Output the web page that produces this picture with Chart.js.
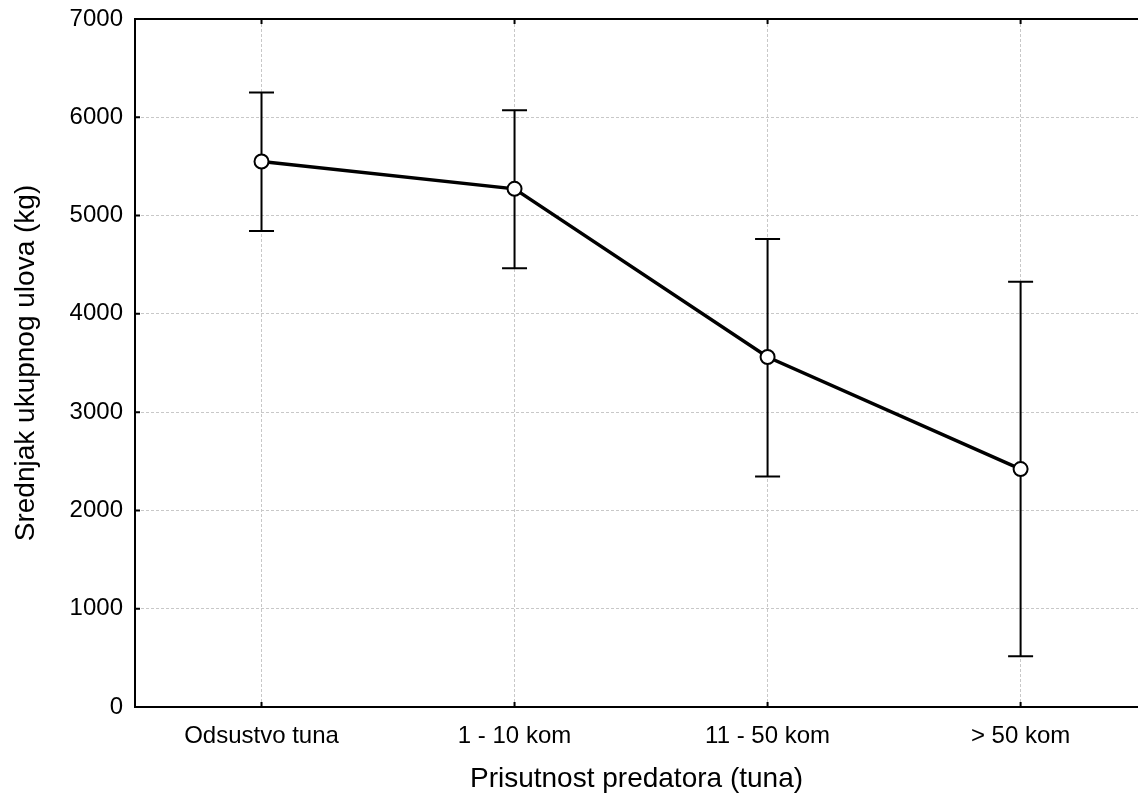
<!DOCTYPE html>
<html>
<head>
<meta charset="utf-8">
<script src="https://cdn.jsdelivr.net/npm/chart.js@4/dist/chart.umd.min.js"></script>
<style>
  html, body { margin: 0; padding: 0; background: #fff; overflow: hidden; }
  canvas { display: block; }
</style>
</head>
<body>
<canvas id="c" width="1138" height="794" style="width:1138px;height:794px"></canvas>
<script>
const categories = ['Odsustvo tuna', '1 - 10 kom', '11 - 50 kom', '> 50 kom'];
const means = [5550, 5272, 3561, 2421];
const upperValues = [6253, 6071, 4762, 4326];
const lowerValues = [4843, 4463, 2345, 516];
const yMin = 0, yMax = 7000, yStep = 1000;
const xTitle = 'Prisutnost predatora (tuna)';
const yTitle = 'Srednjak ukupnog ulova (kg)';

const FONT = '"Liberation Sans", Arial, sans-serif';

const points = categories.map((c, i) => ({ x: i, y: means[i] }));

const framePlugin = {
  id: 'framePlugin',
  beforeDatasetsDraw(chart) {
    const { ctx, scales: { x, y } } = chart;
    ctx.save();
    ctx.strokeStyle = '#000';
    ctx.lineWidth = 2;
    const cap = 12.5;
    categories.forEach((c, i) => {
      const px = x.getPixelForValue(i);
      const yt = y.getPixelForValue(upperValues[i]);
      const yb = y.getPixelForValue(lowerValues[i]);
      ctx.beginPath();
      ctx.moveTo(px, yt); ctx.lineTo(px, yb);
      ctx.moveTo(px - cap, yt); ctx.lineTo(px + cap, yt);
      ctx.moveTo(px - cap, yb); ctx.lineTo(px + cap, yb);
      ctx.stroke();
    });
    ctx.restore();
  },
  afterDraw(chart) {
    const { ctx, chartArea: a, scales: { x, y } } = chart;
    ctx.save();
    ctx.strokeStyle = '#000';
    ctx.lineWidth = 2;
    ctx.beginPath();
    ctx.moveTo(a.left - 1, a.top); ctx.lineTo(a.right, a.top);
    ctx.stroke();
    ctx.beginPath();
    categories.forEach((c, i) => {
      const px = x.getPixelForValue(i);
      ctx.moveTo(px, a.bottom); ctx.lineTo(px, a.bottom - 5);
      ctx.moveTo(px, a.top); ctx.lineTo(px, a.top + 5);
    });
    for (let v = yMin; v <= yMax; v += yStep) {
      const py = y.getPixelForValue(v);
      ctx.moveTo(a.left, py); ctx.lineTo(a.left + 5, py);
    }
    ctx.stroke();
    ctx.restore();
  }
};

new Chart(document.getElementById('c'), {
  type: 'line',
  data: {
    datasets: [{
      data: points,
      borderColor: '#000',
      borderWidth: 3.5,
      tension: 0,
      pointRadius: 7,
      pointHoverRadius: 7,
      pointBorderWidth: 2,
      pointBackgroundColor: '#fff',
      pointBorderColor: '#000',
      fill: false,
      clip: false
    }]
  },
  options: {
    responsive: false,
    maintainAspectRatio: false,
    animation: false,
    devicePixelRatio: 1,
    layout: { autoPadding: false, padding: { top: 19, right: 0, bottom: 0, left: 0 } },
    plugins: { legend: { display: false }, tooltip: { enabled: false } },
    scales: {
      x: {
        type: 'linear',
        min: -0.5,
        max: 3.464,
        afterBuildTicks(scale) { scale.ticks = categories.map((c, i) => ({ value: i })); },
        afterFit(scale) { scale.height = 87; scale.paddingLeft = 0; scale.paddingRight = 0; },
        grid: { display: true, color: '#c8c8c8', lineWidth: 1, drawTicks: false },
        border: { display: true, color: '#000', width: 2, dash: [3, 2] },
        ticks: { color: '#000', font: { family: FONT, size: 24 }, padding: 15, maxRotation: 0, autoSkip: false,
                 callback: (v) => categories[v] },
        title: { display: true, text: xTitle, color: '#000', font: { family: FONT, size: 28, lineHeight: 1.05 }, padding: { top: 0, bottom: 0 } }
      },
      y: {
        min: yMin,
        max: yMax,
        afterFit(scale) { scale.width = 135; scale.paddingTop = 0; scale.paddingBottom = 0; },
        grid: { display: true, color: '#c8c8c8', lineWidth: 1, drawTicks: false },
        border: { display: true, color: '#000', width: 2, dash: [3, 2] },
        ticks: { stepSize: yStep, color: '#000', font: { family: FONT, size: 24 }, padding: 12, callback: (v) => String(v) },
        title: { display: true, text: yTitle, color: '#000', font: { family: FONT, size: 28 }, padding: { top: 9, bottom: 0 } }
      }
    }
  },
  plugins: [framePlugin]
});
</script>
</body>
</html>
